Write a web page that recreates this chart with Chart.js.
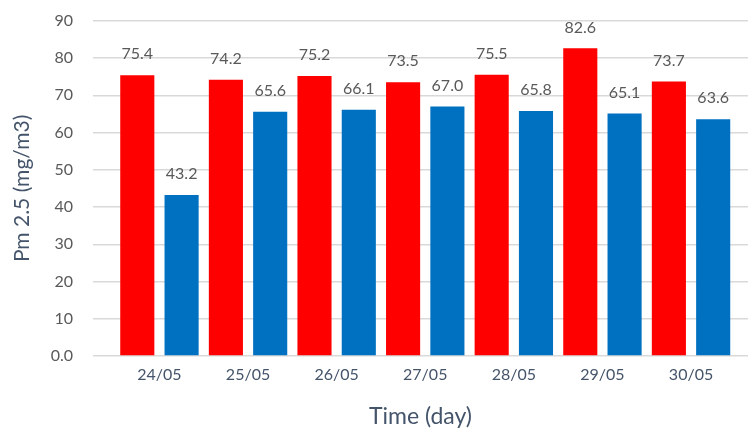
<!DOCTYPE html>
<html>
<head>
<meta charset="utf-8">
<script src="https://cdn.jsdelivr.net/npm/chart.js@4.4.1/dist/chart.umd.min.js"></script>
<style>
  html, body { margin: 0; padding: 0; background: #ffffff; }
  #wrap { width: 748px; height: 433px; position: relative; }
</style>
</head>
<body>
<div id="wrap"><canvas id="c"></canvas></div>
<script>
const categories = ['24/05', '25/05', '26/05', '27/05', '28/05', '29/05', '30/05'];
const redValues  = [75.4, 74.2, 75.2, 73.5, 75.5, 82.6, 73.7];
const blueValues = [43.2, 65.6, 66.1, 67.0, 65.8, 65.1, 63.6];
const yTicks = [0, 10, 20, 30, 40, 50, 60, 70, 80, 90];

const FONT = 'Lato, "Open Sans", sans-serif';

const valueLabels = {
  id: 'valueLabels',
  afterDatasetsDraw(chart) {
    const ctx = chart.ctx;
    ctx.save();
    ctx.font = '16px ' + FONT;
    ctx.fillStyle = '#595959';
    ctx.textAlign = 'center';
    ctx.textBaseline = 'bottom';
    chart.data.datasets.forEach((ds, di) => {
      const meta = chart.getDatasetMeta(di);
      meta.data.forEach((bar, i) => {
        ctx.fillText(ds.data[i].y.toFixed(1), bar.x, bar.y - 13);
      });
    });
    ctx.restore();
  }
};

new Chart(document.getElementById('c'), {
  type: 'bar',
  data: {
    datasets: [
      { label: 'A', data: redValues.map((v, i) => ({ x: i, y: v })), backgroundColor: '#FF0000', barPercentage: 0.77, categoryPercentage: 1.0 },
      { label: 'B', data: blueValues.map((v, i) => ({ x: i, y: v })), backgroundColor: '#0070C0', barPercentage: 0.77, categoryPercentage: 1.0 }
    ]
  },
  options: {
    responsive: true,
    maintainAspectRatio: false,
    animation: false,
    layout: { padding: { top: 20, left: 0, right: 0, bottom: 0 } },
    plugins: { legend: { display: false }, tooltip: { enabled: false } },
    scales: {
      x: {
        type: 'linear',
        min: -0.75,
        max: 6.643,
        offset: false,
        grid: { display: false, drawTicks: false },
        border: { display: false },
        afterBuildTicks(scale) {
          scale.ticks = categories.map((c, i) => ({ value: i }));
        },
        afterFit(scale) { scale.height = 77; },
        ticks: {
          padding: 18,
          autoSkip: false,
          maxRotation: 0,
          color: '#44546A',
          font: { family: FONT, size: 16, lineHeight: 0.1 },
          callback: (v) => categories[v] ?? ''
        },
        title: {
          display: true,
          text: 'Time (day)',
          color: '#44546A',
          font: { family: FONT, size: 23 },
          padding: { top: 0, bottom: 3 }
        }
      },
      y: {
        min: 0,
        max: 90,
        afterBuildTicks(scale) {
          scale.ticks = yTicks.map(v => ({ value: v }));
        },
        afterFit(scale) { scale.width = 93; },
        grid: { color: '#D9D9D9', lineWidth: 1.5, drawTicks: false },
        border: { display: false },
        ticks: {
          padding: 20,
          color: '#595959',
          font: { family: FONT, size: 16, lineHeight: 0.1 },
          callback: (v) => v === 0 ? '0.0' : String(v)
        },
        title: {
          display: true,
          text: 'Pm 2.5 (mg/m3)',
          color: '#44546A',
          font: { family: FONT, size: 21 },
          padding: { top: 10, bottom: 0 }
        }
      }
    }
  },
  plugins: [valueLabels]
});
</script>
</body>
</html>
